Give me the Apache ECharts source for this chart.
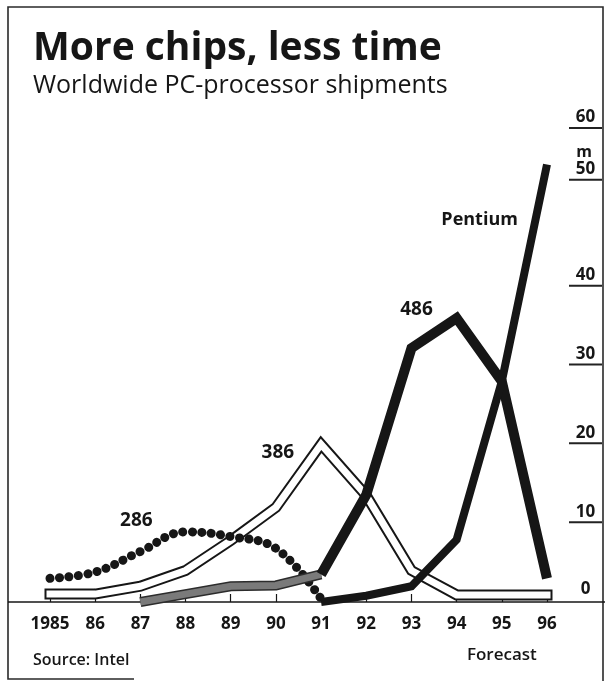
<!DOCTYPE html>
<html><head><meta charset="utf-8">
<script src="https://cdn.jsdelivr.net/npm/echarts@6/dist/echarts.min.js"></script>
<style>html,body{margin:0;padding:0;background:#fff}#c{width:605px;height:681px}</style>
</head><body><div id="c"></div>
<script>
// ---- data ----
const years = ['1985','86','87','88','89','90','91','92','93','94','95','96'];
const s286 = [3.0, 3.8, 6.4, 8.9, 8.3, 6.8, 0.4, null, null, null, null, null];
const s386 = [1.0, 1.0, 2.0, 4.0, 7.8, 12.0, 20.0, 13.5, 4.0, 0.9, 0.9, 0.9];
const s486 = [null, null, 0, 1.0, 2.0, 2.1, 3.5, 13.6, 32.2, 36.0, 28.0, 3.0];
const sPentium = [null, null, null, null, null, null, 0, 0.8, 2.0, 7.9, 28.0, 55.5];
const yTickValues = [0, 10, 20, 30, 40, 50, 60];
const forecastYear = '95';
const greyUntil = '91';

const FONT = 'Open Sans';
const INK = '#161616';
const GRID = {left: 50, right: 55, top: 129, bottom: 79};
const W = 605, H = 681;
const baseY = H - GRID.bottom;

const splitIdx = years.indexOf(greyUntil);
const s486grey = s486.map((v, i) => i <= splitIdx ? v : null);
const s486black = s486.map((v, i) => i >= splitIdx ? v : null);

const chart = echarts.init(document.getElementById('c'), null, {renderer: 'canvas'});

const lbl = (name, coord, offset) => ({name, coord, label: {offset}});

chart.setOption({
  animation: false,
  backgroundColor: '#fff',
  title: {
    text: 'More chips, less time',
    subtext: 'Worldwide PC-processor shipments',
    left: 28, top: 24, itemGap: 5,
    textStyle: {fontFamily: FONT, fontWeight: 'bold', fontSize: 39, color: INK},
    subtextStyle: {fontFamily: FONT, fontSize: 25, color: INK}
  },
  grid: GRID,
  xAxis: {
    type: 'category', data: years, boundaryGap: false,
    axisLine: {show: false},
    axisTick: {show: true, inside: true, length: 8, lineStyle: {color: INK, width: 1.2}},
    axisLabel: {
      margin: 11, interval: 0, verticalAlign: 'top',
      formatter: v => v === forecastYear ? '{y|' + v + '}\n{f|Forecast}' : '{y|' + v + '}',
      rich: {
        y: {fontFamily: FONT, fontWeight: 'bold', fontSize: 17, color: INK, lineHeight: 22},
        f: {fontFamily: FONT, fontWeight: 600, fontSize: 17, color: INK, lineHeight: 40}
      }
    }
  },
  yAxis: {
    type: 'value', position: 'right', offset: GRID.right,
    min: 0, max: 60, interval: 10,
    axisLine: {show: false}, axisTick: {show: false}, splitLine: {show: false},
    name: 'm', nameLocation: 'end', nameGap: -33,
    nameTextStyle: {fontFamily: FONT, fontWeight: 'bold', fontSize: 16, color: INK,
      align: 'right', verticalAlign: 'middle', padding: [0, 10, 0, 0]},
    axisLabel: {
      inside: true, margin: 0, align: 'right', verticalAlign: 'bottom',
      customValues: yTickValues,
      formatter: v => v === 0 ? '{z|0}' : (v === 50 ? '{n|' + v + '}\n{u|}\n{g|}' : '{n|' + v + '}\n{u|}'),
      rich: {
        n: {fontFamily: FONT, fontWeight: 'bold', fontSize: 17, color: INK, width: 33, align: 'center', lineHeight: 19},
        z: {fontFamily: FONT, fontWeight: 'bold', fontSize: 17, color: INK, width: 33, align: 'center', lineHeight: 26},
        u: {width: 33, height: 2, lineHeight: 2, backgroundColor: '#222'},
        g: {width: 33, height: 27, lineHeight: 27}
      }
    }
  },
  series: [
    {name: '386 outline', type: 'line', data: s386, symbol: 'none', clip: false, silent: true,
      lineStyle: {color: INK, width: 11, cap: 'square', join: 'miter', miterLimit: 10}},
    {name: '386', type: 'line', data: s386, symbol: 'none', clip: false, silent: true,
      lineStyle: {color: '#fff', width: 7, cap: 'square', join: 'miter', miterLimit: 10}},
    {name: '286', type: 'line', data: s286, symbol: 'none', clip: false, silent: true, smooth: 0.4,
      lineStyle: {color: INK, width: 9, type: [0.1, 9.4], cap: 'round'}},
    {name: '486 early edge', type: 'line', data: s486grey, symbol: 'none', clip: false, silent: true,
      lineStyle: {color: '#2c2c2c', width: 10, cap: 'butt', join: 'miter'}},
    {name: '486 early', type: 'line', data: s486grey, symbol: 'none', clip: false, silent: true,
      lineStyle: {color: '#7a7a7a', width: 7, cap: 'butt', join: 'miter'}},
    {name: '486', type: 'line', data: s486black, symbol: 'none', clip: false, silent: true,
      lineStyle: {color: INK, width: 10, cap: 'butt', join: 'miter', miterLimit: 4}},
    {name: 'Pentium', type: 'line', data: sPentium, symbol: 'none', clip: false, silent: true,
      lineStyle: {color: INK, width: 8, cap: 'butt', join: 'miter'},
      markPoint: {
        symbol: 'circle', symbolSize: 0, silent: true,
        label: {show: true, position: 'inside', formatter: '{b}',
          fontFamily: FONT, fontWeight: 'bold', fontSize: 19, color: INK},
        data: [
          lbl('286', ['87', 10.3], [-4, 0]),
          lbl('386', ['90', 19.0], [2, 0]),
          lbl('486', ['93', 37.1], [5, 0]),
          {name: 'Pentium', coord: ['94', 48.5], label: {offset: [23, 0], fontSize: 18}}
        ]
      }}
  ],
  graphic: [
    {type: 'polyline', silent: true,
      shape: {points: [[134, 679], [8, 679], [8, 7], [603, 7], [603, H]]},
      style: {stroke: '#2a2a2a', lineWidth: 1.6, fill: null}},
    {type: 'line', silent: true,
      shape: {x1: 8, y1: baseY, x2: W, y2: baseY},
      style: {stroke: INK, lineWidth: 1.6}},
    {type: 'text', silent: true, left: 33, top: 652,
      style: {text: 'Source: Intel', fontFamily: FONT, fontWeight: 600, fontSize: 16, fill: INK}}
  ]
});
</script>
</body></html>
